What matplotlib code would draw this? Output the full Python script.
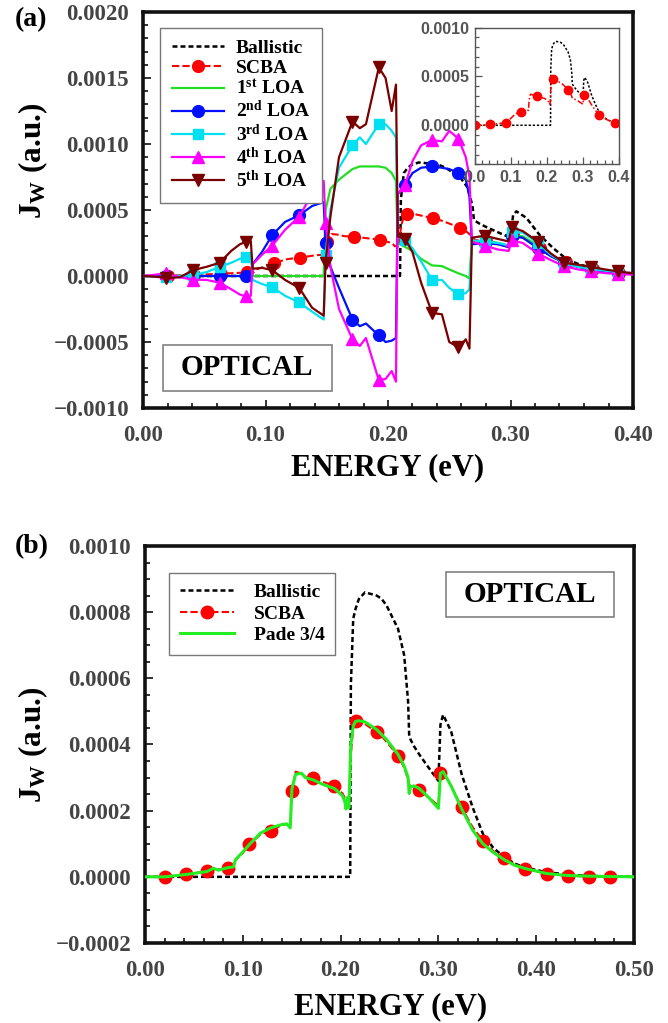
import numpy as np
import matplotlib
matplotlib.use("Agg")
import matplotlib.pyplot as plt
from matplotlib.ticker import MultipleLocator, FuncFormatter
from matplotlib.patches import Rectangle

plt.rcParams['font.family'] = ['Liberation Serif', 'DejaVu Serif']
plt.rcParams['font.weight'] = 'bold'
plt.rcParams['mathtext.fontset'] = 'custom'
plt.rcParams['mathtext.rm'] = 'Liberation Serif:bold'
plt.rcParams['mathtext.bf'] = 'Liberation Serif:bold'
plt.rcParams['mathtext.it'] = 'Liberation Serif:bold'

# ---------------- full-energy data (ballistic, SCBA, Pade), J in 1e-4 a.u. ----------------
energy_b = [0.0000, 0.0204, 0.0417, 0.0634, 0.0700, 0.0750, 0.0851, 0.0905, 0.0925, 0.1000,
            0.1068, 0.1180, 0.1285, 0.1400, 0.1450, 0.1485, 0.1502, 0.1540, 0.1600, 0.1640,
            0.1719, 0.1830, 0.1936, 0.2020, 0.2045, 0.2055, 0.2070, 0.2085, 0.2098, 0.2105,
            0.2129, 0.2153, 0.2187, 0.2250, 0.2370, 0.2420, 0.2470, 0.2587, 0.2650, 0.2690,
            0.2701, 0.2715, 0.2750, 0.2804, 0.2900, 0.3000, 0.3021, 0.3048, 0.3130, 0.3238,
            0.3350, 0.3455, 0.3560, 0.3672, 0.3780, 0.3889, 0.4106, 0.4323, 0.4540, 0.4757,
            0.5000]

ballistic = [0, 0, 0, 0, 0, 0, 0, 0, 0, 0,
             0, 0, 0, 0, 0, 0, 0, 0, 0, 0,
             0, 0, 0, 0, 0, 0, 0, 0, 0, 5.8,
             7.8, 8.1, 8.4, 8.6, 8.5, 8.4, 8.2, 7.5, 6.7, 5.3,
             4.3, 4.15, 3.95, 3.7, 3.3, 2.9, 4.6, 4.9, 4.4, 3.1,
             2.1, 1.3, 0.88, 0.6, 0.4, 0.28, 0.14, 0.07, 0.03, 0.01,
             0.0]

scba = [0.0, 0.0, 0.08, 0.17, 0.20, 0.22, 0.27, 0.30, 0.50, 0.72,
        0.98, 1.28, 1.40, 1.56, 1.60, 1.52, 2.58, 3.18, 3.12, 3.02,
        2.98, 2.86, 2.75, 2.52, 2.38, 2.25, 2.28, 2.15, 3.00, 3.70,
        4.52, 4.72, 4.74, 4.62, 4.37, 4.25, 4.08, 3.66, 3.30, 2.95,
        2.80, 2.72, 2.68, 2.63, 2.40, 2.15, 3.13, 3.18, 2.75, 2.10,
        1.50, 1.09, 0.78, 0.56, 0.38, 0.25, 0.10, 0.03, 0.01, 0.0,
        0.0]

pade = [0.0, 0.0, 0.07, 0.16, 0.26, 0.20, 0.28, 0.30, 0.52, 0.75,
        0.98, 1.32, 1.48, 1.58, 1.60, 1.48, 2.65, 3.10, 3.13, 3.00,
        2.93, 2.78, 2.67, 2.45, 2.25, 2.05, 2.40, 2.08, 3.40, 4.00,
        4.56, 4.70, 4.72, 4.68, 4.45, 4.30, 4.15, 3.70, 3.35, 3.00,
        2.52, 2.72, 2.75, 2.67, 2.40, 2.07, 3.13, 3.18, 2.75, 2.05,
        1.41, 1.00, 0.74, 0.52, 0.35, 0.25, 0.10, 0.04, 0.02, 0.01,
        0.0]

scba_marks = [1, 2, 3, 6, 10, 12, 16, 20, 22, 31, 34, 37, 43, 46, 49, 51, 53, 55, 56, 57, 58, 59]
inset_marks = [0, 2, 6, 12, 20, 31, 37, 46, 51, 55]

# ---------------- LOA data (panel a), J in 1e-4 a.u. ----------------
energy_a = [0.000, 0.010, 0.019, 0.030, 0.041, 0.052, 0.0625, 0.072, 0.079, 0.084,
            0.088, 0.0895, 0.097, 0.1055, 0.116, 0.1275, 0.138, 0.1475, 0.149, 0.153,
            0.160, 0.171, 0.177, 0.182, 0.1925, 0.198, 0.203, 0.2065, 0.208, 0.214,
            0.220, 0.227, 0.236, 0.244, 0.250, 0.2575, 0.2635, 0.2665, 0.2685, 0.279,
            0.290, 0.2985, 0.301, 0.310, 0.3225, 0.333, 0.344, 0.355, 0.366, 0.377,
            0.3875, 0.400]

loa1 = [0, 0, 0, 0, 0, 0, 0, 0, 0, 0,
        0, 0, 0, 0, 0, 0, 0, 0, 5.0, 6.6,
        7.3, 8.1, 8.3, 8.3, 8.3, 8.2, 7.8, 7.2, 2.5, 2.2,
        1.9, 1.3, 0.8, 0.75, 0.5, 0.2, 0.0, -0.2, 2.6, 2.7,
        2.5, 2.3, 3.1, 3.0, 2.3, 1.5, 1.0, 0.7, 0.5, 0.35,
        0.25, 0.2]

loa2 = [0, 0, 0, 0, 0, 0, 0, 0, 0, 0,
        0, 0.9, 1.8, 3.1, 4.1, 4.6, 5.3, 5.6, 2.5, 0.7,
        -0.9, -3.3, -3.8, -3.6, -4.5, -5.0, -4.9, -4.7, 6.2, 6.9,
        7.8, 8.2, 8.3, 8.2, 8.1, 7.8, 7.3, 6.0, 2.4, 2.5,
        2.4, 2.2, 3.0, 2.9, 2.1, 1.5, 1.0, 0.7, 0.5, 0.35,
        0.25, 0.2]

loa3 = [0, -0.05, -0.1, 0.0, 0.05, 0.3, 0.7, 1.0, 1.3, 1.45,
        1.6, -0.3, -0.6, -0.85, -1.5, -2.0, -2.7, -3.3, 1.6, 5.0,
        8.2, 9.9, 10.5, 10.0, 11.5, 11.5, 11.0, 10.5, 3.0, 2.7,
        2.1, 1.1, -0.3, -0.3, -0.9, -1.4, -1.3, -1.0, 2.7, 2.6,
        2.5, 2.3, 3.3, 3.3, 2.5, 1.6, 1.0, 0.7, 0.55, 0.4,
        0.3, 0.2]

loa4 = [0, 0.1, 0.2, -0.1, -0.27, -0.3, -0.5, -1.0, -1.4, -1.55,
        -1.5, 0.9, 1.6, 2.3, 3.5, 4.5, 6.2, 7.2, 4.05, 0.7,
        -2.5, -4.8, -5.3, -4.7, -7.9, -7.8, -7.2, -8.0, 6.2, 6.9,
        8.7, 9.9, 10.3, 10.2, 11.0, 10.4, 9.0, 7.5, 2.6, 2.3,
        2.0, 1.9, 2.7, 2.5, 1.7, 1.2, 0.75, 0.5, 0.35, 0.22,
        0.15, 0.1]

loa5 = [0, -0.05, -0.15, -0.1, 0.45, 0.7, 1.0, 1.9, 2.4, 2.6,
        2.65, 0.55, 0.62, 0.45, -0.3, -0.9, -2.4, -3.0, 1.0, 4.5,
        9.0, 11.7, 11.2, 11.5, 15.8, 15.0, 12.5, 14.5, 3.0, 2.8,
        1.8, -0.5, -2.8, -2.9, -5.0, -5.4, -4.8, -5.5, 2.9, 3.05,
        2.8, 2.62, 3.7, 3.4, 2.6, 1.7, 1.0, 0.85, 0.68, 0.5,
        0.35, 0.2]

loa_marks = [2, 4, 6, 9, 13, 15, 18, 21, 24, 29, 32, 35, 39, 42, 44, 46, 48, 50]

UNIT = 1e-4
eb = np.array(energy_b)
ea = np.array(energy_a)

W, H = 668, 1023
fig = plt.figure(figsize=(W / 100, H / 100), dpi=100)
ax_a = fig.add_axes([143 / W, 1 - 408 / H, 490 / W, 396 / H])
ax_b = fig.add_axes([145 / W, 1 - 943 / H, 489 / W, 397 / H])
ax_in = fig.add_axes([475 / W, 1 - 164.3 / H, 144 / W, 136.6 / H])


def yfmt(v, pos):
    if abs(v) < 1e-12:
        v = 0.0
    return f"{v:.4f}".replace('-', '\u2212')


def style_main(ax, xmax, ymin, ymax, ymajor, yminor):
    ax.set_xlim(0, xmax)
    ax.set_ylim(ymin, ymax)
    ax.xaxis.set_major_locator(MultipleLocator(0.1))
    ax.xaxis.set_minor_locator(MultipleLocator(0.02))
    ax.yaxis.set_major_locator(MultipleLocator(ymajor))
    ax.yaxis.set_minor_locator(MultipleLocator(yminor))
    ax.tick_params(which='both', direction='in', top=False, right=False,
                   width=1.3, color='#222222')
    ax.tick_params(which='major', length=6)
    ax.tick_params(which='minor', length=3.5)
    ax.tick_params(axis='x', pad=12, labelsize=16.5, labelcolor='#444444')
    ax.tick_params(axis='y', pad=10, labelsize=16.5, labelcolor='#444444')
    for s in ax.spines.values():
        s.set_linewidth(2.6)
        s.set_color('#111111')
    ax.xaxis.set_major_formatter(FuncFormatter(lambda v, p: f"{v:.2f}"))
    ax.yaxis.set_major_formatter(FuncFormatter(yfmt))
    for lab in ax.get_xticklabels() + ax.get_yticklabels():
        lab.set_fontweight('bold')


def optical_box(ax, x0, y0, w, h):
    ax.add_patch(Rectangle((x0, y0), w, h, transform=ax.transAxes, fill=True,
                           facecolor='white', edgecolor='#777777', lw=1.1, zorder=5))
    ax.text(x0 + w / 2, y0 + h / 2, 'OPTICAL', transform=ax.transAxes, ha='center',
            va='center', fontsize=21, fontweight='bold', zorder=6)


# ---------------- panel (a) ----------------
ax_a.plot(eb, np.array(ballistic) * UNIT, color='black', lw=1.8, dashes=(2, 1.2),
          label='Ballistic', zorder=2)
ax_a.plot(eb, np.array(scba) * UNIT, color='red', lw=1.5, dashes=(3.5, 1.5),
          marker='o', ms=8.5, markevery=scba_marks, label='SCBA', zorder=3)
ax_a.plot(ea, np.array(loa1) * UNIT, color='#22dd22', lw=1.6,
          label='1$^{\\mathbf{st}}$ LOA', zorder=3)
ax_a.plot(ea, np.array(loa2) * UNIT, color='#0010ff', lw=1.6, marker='o', ms=8.5,
          markevery=loa_marks, label='2$^{\\mathbf{nd}}$ LOA', zorder=4)
ax_a.plot(ea, np.array(loa3) * UNIT, color='#00e0f0', lw=1.6, marker='s', ms=7.5,
          markevery=loa_marks, label='3$^{\\mathbf{rd}}$ LOA', zorder=4)
ax_a.plot(ea, np.array(loa4) * UNIT, color='#ff00ff', lw=1.6, marker='^', ms=9,
          markevery=loa_marks, label='4$^{\\mathbf{th}}$ LOA', zorder=4)
ax_a.plot(ea, np.array(loa5) * UNIT, color='#7a0000', lw=1.6, marker='v', ms=9,
          markevery=loa_marks, label='5$^{\\mathbf{th}}$ LOA', zorder=4)
style_main(ax_a, 0.4, -0.001, 0.002, 0.0005, 0.0001)
leg = ax_a.legend(loc='upper left', bbox_to_anchor=(17 / 490, 1 - 16 / 396),
                  borderaxespad=0, prop={'family': 'Liberation Serif', 'weight': 'bold', 'size': 14},
                  handlelength=2.7, handletextpad=0.6, labelspacing=0.1, borderpad=0.6,
                  fancybox=False, edgecolor='#777777', framealpha=1)
leg.get_frame().set_linewidth(1.0)
optical_box(ax_a, 0.040, 0.044, 0.345, 0.115)

# ---------------- inset ----------------
ax_in.plot(eb, np.array(ballistic) * UNIT, color='black', lw=1.1, dashes=(1.5, 1.2))
ax_in.plot(eb, np.array(scba) * UNIT, color='red', lw=1.1, dashes=(4, 1.5, 1, 1.5),
           marker='o', ms=6, markevery=inset_marks)
ax_in.set_xlim(0, 0.4)
ax_in.set_ylim(-0.0004, 0.001)
ax_in.xaxis.set_major_locator(MultipleLocator(0.1))
ax_in.xaxis.set_minor_locator(MultipleLocator(0.02))
ax_in.yaxis.set_major_locator(MultipleLocator(0.0005))
ax_in.yaxis.set_minor_locator(MultipleLocator(0.0001))
ax_in.tick_params(which='both', direction='in', top=False, right=False, color='#555555', width=0.9)
ax_in.tick_params(which='major', length=5)
ax_in.tick_params(which='minor', length=3)
ax_in.tick_params(axis='both', labelsize=11.5, labelcolor='#555555', pad=4)
ax_in.xaxis.set_major_formatter(FuncFormatter(lambda v, p: f"{v:.1f}"))
ax_in.yaxis.set_major_formatter(FuncFormatter(yfmt))
for lab in ax_in.get_xticklabels() + ax_in.get_yticklabels():
    lab.set_fontfamily('Liberation Sans')
    lab.set_fontweight('bold')
for s in ax_in.spines.values():
    s.set_linewidth(1.0)
    s.set_color('#555555')

# ---------------- panel (b) ----------------
ax_b.plot(eb, np.array(ballistic) * UNIT, color='black', lw=1.8, dashes=(2, 1.2),
          label='Ballistic', zorder=2)
ax_b.plot(eb, np.array(scba) * UNIT, color='red', lw=1.5, dashes=(3.5, 1.5),
          marker='o', ms=9, markevery=scba_marks, label='SCBA', zorder=3)
ax_b.plot(eb, np.array(pade) * UNIT, color='#22ee22', lw=2.2, label='Pade 3/4', zorder=4)
style_main(ax_b, 0.5, -0.0002, 0.001, 0.0002, 0.00005)
leg_b = ax_b.legend(loc='upper left', bbox_to_anchor=(24 / 489, 1 - 26.7 / 397),
                    borderaxespad=0, prop={'family': 'Liberation Serif', 'weight': 'bold', 'size': 14},
                    handlelength=2.8, handletextpad=1.0, labelspacing=0.2, borderpad=0.55,
                    fancybox=False, edgecolor='#777777', framealpha=1)
leg_b.get_frame().set_linewidth(1.0)
optical_box(ax_b, 0.615, 0.820, 0.344, 0.115)

# ---------------- labels ----------------
fig.text(388 / W, 1 - 468 / H, 'ENERGY (eV)', ha='center', va='center', fontsize=22, fontweight='bold')
fig.text(391 / W, 1 - 1007 / H, 'ENERGY (eV)', ha='center', va='center', fontsize=22, fontweight='bold')
fig.text(33 / W, 1 - 161 / H, 'J$_{\\mathbf{W}}$ (a.u.)', rotation=90, ha='center', va='center',
         fontsize=22.5, fontweight='bold')
fig.text(33 / W, 1 - 745 / H, 'J$_{\\mathbf{W}}$ (a.u.)', rotation=90, ha='center', va='center',
         fontsize=22.5, fontweight='bold')
fig.text(15 / W, 1 - 20 / H, '(a)', ha='left', va='center', fontsize=20, fontweight='bold')
fig.text(15 / W, 1 - 547 / H, '(b)', ha='left', va='center', fontsize=20, fontweight='bold')

fig.savefig('out.png', dpi=100)
